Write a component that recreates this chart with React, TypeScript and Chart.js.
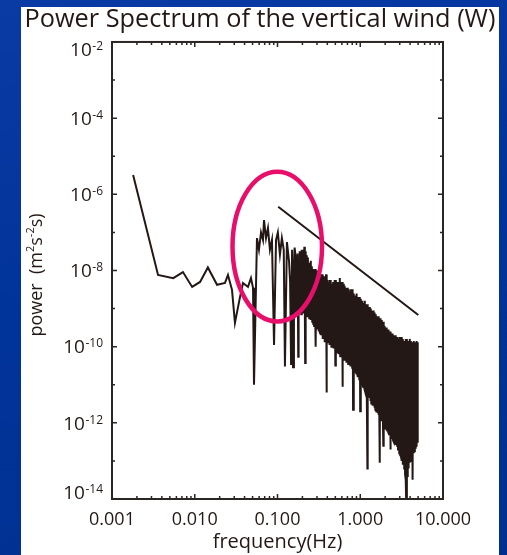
import React, { useEffect, useRef } from "react";
import { Chart, registerables } from "chart.js";

Chart.register(...registerables);

const TITLE = "Power Spectrum of the vertical wind (W)";
const X_TITLE = "frequency(Hz)";
const FONT = "'Open Sans', 'Noto Sans', sans-serif";
const INK = "#231815";
const AXIS_INK = "#2b2623";
const ELLIPSE_COLOR = "#e80f6b";

// low-frequency part of the spectrum (individually resolvable points)
const lowFreq = [
  0.0018, 0.0036, 0.0055, 0.0072, 0.0093, 0.0116, 0.0144, 0.0186, 0.0232, 0.0252,
  0.0282, 0.0306, 0.0352, 0.0383, 0.044, 0.0478, 0.0506, 0.052, 0.0565, 0.0597,
  0.0632, 0.0668, 0.0687, 0.0727, 0.0767, 0.081, 0.0857, 0.0908, 0.096, 0.101,
  0.107, 0.113, 0.119, 0.123, 0.13, 0.138, 0.142, 0.146, 0.15, 0.154,
  0.158, 0.161,
];
const lowPower = [
  3.2e-6, 7.6e-9, 6.3e-9, 9.1e-9, 3.7e-9, 5.0e-9, 1.2e-8, 4.2e-9, 4.7e-9, 7.6e-9,
  3.1e-9, 4.2e-10, 2.0e-9, 4.7e-9, 3.7e-9, 6.3e-9, 3.5e-9, 1.0e-11, 7.1e-8, 3.5e-8,
  1.0e-7, 6.3e-8, 2.1e-7, 7.1e-8, 1.3e-7, 3.5e-8, 6.3e-8, 1.1e-10, 6.3e-8, 1.0e-7,
  2.6e-8, 7.1e-8, 3.5e-8, 3.0e-11, 5.6e-8, 1.7e-8, 5e-9, 3.3e-11, 3.5e-8, 2.9e-11,
  1.2e-8, 4.0e-8,
];

// high-frequency dense part of the spectrum
const bandFreq = [
  0.165, 0.167, 0.169, 0.171, 0.173, 0.175, 0.178, 0.18, 0.182, 0.184,
  0.187, 0.189, 0.191, 0.194, 0.196, 0.199, 0.201, 0.204, 0.206, 0.209,
  0.211, 0.214, 0.216, 0.219, 0.222, 0.225, 0.227, 0.23, 0.233, 0.236,
  0.239, 0.242, 0.245, 0.248, 0.251, 0.254, 0.257, 0.26, 0.263, 0.267,
  0.27, 0.273, 0.277, 0.28, 0.284, 0.287, 0.291, 0.294, 0.298, 0.302,
  0.305, 0.309, 0.313, 0.317, 0.321, 0.325, 0.329, 0.333, 0.337, 0.341,
  0.345, 0.35, 0.354, 0.358, 0.363, 0.367, 0.372, 0.376, 0.381, 0.386,
  0.391, 0.395, 0.4, 0.405, 0.41, 0.416, 0.421, 0.426, 0.431, 0.437,
  0.442, 0.448, 0.453, 0.459, 0.464, 0.47, 0.476, 0.482, 0.488, 0.494,
  0.5, 0.507, 0.513, 0.519, 0.525, 0.532, 0.539, 0.545, 0.552, 0.559,
  0.566, 0.573, 0.58, 0.587, 0.594, 0.602, 0.609, 0.617, 0.624, 0.632,
  0.64, 0.648, 0.656, 0.664, 0.672, 0.681, 0.689, 0.698, 0.706, 0.715,
  0.724, 0.733, 0.742, 0.751, 0.761, 0.77, 0.78, 0.789, 0.799, 0.809,
  0.819, 0.83, 0.84, 0.85, 0.861, 0.872, 0.882, 0.893, 0.904, 0.916,
  0.927, 0.939, 0.95, 0.962, 0.974, 0.986, 0.998, 1.01, 1.02, 1.04,
  1.05, 1.06, 1.08, 1.09, 1.1, 1.12, 1.13, 1.14, 1.16, 1.17,
  1.19, 1.2, 1.22, 1.23, 1.25, 1.26, 1.28, 1.3, 1.31, 1.33,
  1.34, 1.36, 1.38, 1.4, 1.41, 1.43, 1.45, 1.47, 1.48, 1.5,
  1.52, 1.54, 1.56, 1.58, 1.6, 1.62, 1.64, 1.66, 1.68, 1.7,
  1.72, 1.74, 1.76, 1.79, 1.81, 1.83, 1.85, 1.88, 1.9, 1.92,
  1.95, 1.97, 2.0, 2.02, 2.05, 2.07, 2.1, 2.12, 2.15, 2.18,
  2.2, 2.23, 2.26, 2.29, 2.31, 2.34, 2.37, 2.4, 2.43, 2.46,
  2.49, 2.52, 2.55, 2.59, 2.62, 2.65, 2.68, 2.72, 2.75, 2.79,
  2.82, 2.86, 2.89, 2.93, 2.96, 3.0, 3.04, 3.07, 3.11, 3.15,
  3.19, 3.23, 3.27, 3.31, 3.35, 3.4, 3.44, 3.48, 3.52, 3.57,
  3.61, 3.66, 3.7, 3.75, 3.79, 3.84, 3.89, 3.94, 3.99, 4.04,
  4.09, 4.14, 4.19, 4.24, 4.29, 4.35, 4.4, 4.46, 4.51, 4.57,
  4.62, 4.68, 4.74, 4.8, 4.86, 4.92, 4.98,
];
const bandPower = [
  2.5e-8, 7.9e-10, 2.0e-8, 4.0e-9, 1.0e-9, 2.8e-8, 5.4e-11, 2.2e-8, 8.9e-10, 3.2e-8,
  8.9e-10, 3.2e-8, 2.5e-9, 7.1e-10, 3.5e-8, 1.0e-9, 2.8e-8, 7.9e-10, 3.5e-8, 5.0e-9,
  4.2e-8, 8.9e-10, 3.7e-11, 3.2e-8, 7.9e-10, 2.5e-8, 3.2e-9, 6.3e-10, 2.2e-8, 7.1e-10,
  1.6e-8, 5.6e-10, 1.4e-8, 2.0e-9, 5.0e-10, 1.8e-8, 6.3e-10, 1.3e-8, 4.5e-10, 1.1e-8,
  4.0e-10, 1.1e-8, 3.5e-10, 1.0e-8, 1.6e-9, 1.1e-8, 1.0e-10, 8.9e-9, 3.5e-10, 1.0e-8,
  2.8e-10, 7.9e-9, 2.5e-10, 7.1e-9, 1.3e-9, 2.2e-10, 6.3e-9, 2.0e-10, 7.9e-9, 2.5e-10,
  7.9e-9, 1.6e-10, 6.3e-9, 1.0e-9, 1.6e-10, 7.1e-9, 1.3e-10, 6.3e-9, 1.6e-10, 7.9e-9,
  6.3e-12, 6.3e-9, 1.3e-10, 5.6e-9, 7.9e-10, 1.3e-10, 5.0e-9, 1.1e-10, 5.6e-9, 1.3e-10,
  5.0e-9, 1.0e-10, 4.5e-9, 6.3e-10, 1.0e-10, 5.0e-9, 8.9e-11, 4.0e-9, 1.0e-10, 5.6e-9,
  3.2e-11, 5.6e-9, 7.1e-11, 5.0e-9, 5.0e-10, 7.1e-11, 4.0e-9, 6.3e-11, 5.0e-9, 7.1e-11,
  6.3e-9, 5.6e-11, 5.0e-9, 4.0e-10, 5.6e-11, 5.0e-9, 8.9e-12, 4.0e-9, 5.0e-11, 4.5e-9,
  4.5e-11, 4.0e-9, 4.5e-11, 3.5e-9, 3.2e-10, 4.0e-11, 3.2e-9, 4.0e-11, 3.5e-9, 3.5e-11,
  3.2e-9, 3.5e-11, 2.8e-9, 2.5e-10, 3.2e-11, 3.2e-9, 3.2e-11, 2.5e-9, 2.8e-11, 3.2e-9,
  2.2e-12, 2.5e-9, 2.5e-11, 2.2e-9, 2.0e-10, 2.2e-11, 2.2e-9, 2.0e-11, 2.5e-9, 2.0e-11,
  2.0e-9, 1.6e-11, 1.8e-9, 1.3e-10, 1.4e-11, 2.0e-9, 2.0e-12, 1.8e-9, 1.3e-11, 1.6e-9,
  1.0e-11, 1.6e-9, 8.9e-12, 1.4e-9, 1.0e-10, 7.9e-12, 1.6e-9, 7.1e-12, 1.3e-9, 7.1e-12,
  1.3e-9, 5.6e-12, 6.3e-14, 1.3e-9, 5.0e-12, 1.1e-9, 7.1e-11, 4.5e-12, 1.1e-9, 4.0e-12,
  1.0e-9, 3.2e-12, 8.9e-10, 5.0e-11, 2.8e-12, 8.9e-10, 2.8e-12, 7.9e-10, 2.5e-12, 7.9e-10,
  2.2e-12, 7.1e-10, 2.0e-12, 6.3e-10, 3.5e-11, 1.8e-12, 6.3e-10, 1.6e-12, 5.6e-10, 1.6e-12,
  8.9e-14, 5.6e-10, 1.3e-12, 5.0e-10, 2.5e-11, 1.1e-12, 4.5e-10, 1.0e-12, 2.5e-13, 4.5e-10,
  7.9e-13, 3.5e-10, 7.1e-13, 3.2e-10, 1.6e-11, 6.3e-13, 3.2e-10, 6.3e-13, 2.8e-10, 5.6e-13,
  2.8e-10, 5.0e-13, 2.5e-10, 1.0e-11, 2.0e-13, 2.5e-10, 4.5e-13, 2.2e-10, 4.0e-13, 2.2e-10,
  3.5e-13, 2.0e-10, 3.2e-13, 1.8e-10, 7.9e-12, 2.8e-13, 2.0e-10, 2.8e-13, 1.8e-10, 2.5e-13,
  1.8e-10, 2.0e-13, 1.6e-10, 5.6e-12, 1.6e-13, 1.8e-10, 1.4e-13, 1.6e-10, 1.3e-13, 1.8e-10,
  1.0e-13, 1.6e-10, 7.9e-14, 1.4e-10, 3.2e-12, 6.3e-14, 1.4e-10, 4.5e-14, 1.6e-10, 3.2e-14,
  5e-15, 1.6e-10, 4.0e-14, 1.4e-10, 3.2e-12, 6.3e-14, 1.4e-10, 8.9e-14, 1.6e-10, 1.0e-13,
  1.4e-10, 1.3e-13, 1.3e-10, 2.5e-12, 3.2e-14, 1.3e-10, 1.6e-13, 1.4e-10, 1.8e-13, 1.3e-10,
  2.2e-13, 1.3e-10, 2.5e-13, 1.4e-10, 3.2e-13, 3.2e-12, 1.3e-10,
];

// reference -5/3 slope line
const slopeFreq = [0.102, 5.03];
const slopePower = [4.7e-7, 6.8e-10];

// highlighted region (ellipse bounding box, data units)
const ellipseFreq = [0.0286, 0.345];
const ellipsePower = [3.9e-6, 4.6e-10];

// axes
const xTickValues = [0.001, 0.01, 0.1, 1, 10];
const xTickLabels = ["0.001", "0.010", "0.100", "1.000", "10.000"];
const xMinorMultipliers = [2, 3, 4, 5, 6, 7, 8, 9];
const yTickExponents = [-14, -13, -12, -11, -10, -9, -8, -7, -6, -5, -4, -3, -2];
const yLabelExponents = [-2, -4, -6, -8, -10, -12, -14];

const decorPlugin = {
  id: "spectrumDecor",
  afterDatasetsDraw(chart: any) {
    const { ctx, scales } = chart;
    const x = scales.x;
    const y = scales.y;
    const l = x.getPixelForValue(ellipseFreq[0]);
    const r = x.getPixelForValue(ellipseFreq[1]);
    const t = y.getPixelForValue(ellipsePower[0]);
    const b = y.getPixelForValue(ellipsePower[1]);
    ctx.save();
    ctx.strokeStyle = ELLIPSE_COLOR;
    ctx.lineWidth = 4.5;
    ctx.beginPath();
    ctx.ellipse((l + r) / 2, (t + b) / 2, (r - l) / 2, (b - t) / 2, 0, 0, Math.PI * 2);
    ctx.stroke();
    ctx.restore();
  },
  afterDraw(chart: any) {
    const { ctx, chartArea: a, scales } = chart;
    const x = scales.x;
    const y = scales.y;
    ctx.save();
    // frame
    ctx.strokeStyle = AXIS_INK;
    ctx.lineWidth = 2;
    ctx.strokeRect(a.left, a.top, a.right - a.left, a.bottom - a.top);
    // x ticks (inward, bottom and top)
    ctx.lineWidth = 1.5;
    ctx.beginPath();
    xTickValues.forEach((v, i) => {
      const px = x.getPixelForValue(v);
      ctx.moveTo(px, a.bottom);
      ctx.lineTo(px, a.bottom - 5);
      ctx.moveTo(px, a.top);
      ctx.lineTo(px, a.top + 5);
      if (i < xTickValues.length - 1) {
        xMinorMultipliers.forEach((m) => {
          const mx = x.getPixelForValue(v * m);
          ctx.moveTo(mx, a.bottom);
          ctx.lineTo(mx, a.bottom - 3);
          ctx.moveTo(mx, a.top);
          ctx.lineTo(mx, a.top + 3);
        });
      }
    });
    // y ticks (inward, left and right)
    yTickExponents.forEach((e) => {
      const py = y.getPixelForValue(Math.pow(10, e));
      const len = e % 2 === 0 ? 5 : 3;
      ctx.moveTo(a.left, py);
      ctx.lineTo(a.left + len, py);
      ctx.moveTo(a.right, py);
      ctx.lineTo(a.right - len, py);
    });
    ctx.stroke();

    // y tick labels 10^n
    ctx.fillStyle = INK;
    ctx.textBaseline = "alphabetic";
    const base = 19;
    const sup = 12;
    const dh = base * 0.714;
    const R = a.left - 9;
    yLabelExponents.forEach((e) => {
      const py = y.getPixelForValue(Math.pow(10, e));
      let top = py - dh / 2;
      top = Math.max(a.top, Math.min(a.bottom - dh, top));
      const expText = "-" + Math.abs(e);
      ctx.font = `${sup}px ${FONT}`;
      const we = ctx.measureText(expText).width;
      ctx.textAlign = "left";
      ctx.fillText(expText, R - we, top - 1 + sup * 0.714);
      ctx.font = `${base}px ${FONT}`;
      ctx.textAlign = "right";
      ctx.fillText("10", R - we - 0.5, top + dh);
    });

    // y axis title with superscripts
    const parts = [
      { t: "power  (m", s: 18, up: 0 },
      { t: "2", s: 11, up: 8 },
      { t: "s", s: 18, up: 0 },
      { t: "-2", s: 11, up: 8 },
      { t: "s)", s: 18, up: 0 },
    ];
    let total = 0;
    parts.forEach((p) => {
      ctx.font = `${p.s}px ${FONT}`;
      total += ctx.measureText(p.t).width;
    });
    ctx.save();
    ctx.translate(42, 275);
    ctx.rotate(-Math.PI / 2);
    ctx.textAlign = "left";
    let u = -total / 2;
    parts.forEach((p) => {
      ctx.font = `${p.s}px ${FONT}`;
      ctx.fillText(p.t, u, -p.up);
      u += ctx.measureText(p.t).width;
    });
    ctx.restore();
    ctx.restore();
  },
};

export default function App() {
  const canvasRef = useRef<HTMLCanvasElement | null>(null);

  useEffect(() => {
    const canvas = canvasRef.current;
    if (!canvas) return;
    const spectrum = [
      ...lowFreq.map((f, i) => ({ x: f, y: lowPower[i] })),
      ...bandFreq.map((f, i) => ({ x: f, y: bandPower[i] })),
    ];
    const slope = slopeFreq.map((f, i) => ({ x: f, y: slopePower[i] }));
    const tickFont = { family: FONT, size: 18, weight: "normal" as const };
    const axisTitleFont = { family: FONT, size: 20, weight: "normal" as const };

    const chart = new Chart(canvas, {
      type: "line",
      data: {
        datasets: [
          {
            label: "W spectrum",
            data: spectrum,
            borderColor: INK,
            borderWidth: 2,
            pointRadius: 0,
            tension: 0,
            fill: false,
            xAxisID: "x",
            yAxisID: "y",
          },
          {
            label: "-5/3 slope",
            data: slope,
            borderColor: INK,
            borderWidth: 2,
            pointRadius: 0,
            tension: 0,
            fill: false,
            xAxisID: "x",
            yAxisID: "y",
          },
        ],
      },
      options: {
        animation: false,
        responsive: false,
        devicePixelRatio: 1,
        layout: { padding: { left: 13, right: 0, top: 0, bottom: 0 } },
        plugins: {
          legend: { display: false },
          tooltip: { enabled: false },
          title: {
            display: true,
            text: TITLE,
            color: INK,
            font: { family: FONT, size: 25.3, weight: "normal" },
            padding: { top: 5, bottom: 6.6 },
          },
        },
        scales: {
          x: {
            type: "logarithmic",
            position: "bottom",
            min: 0.001,
            max: 10,
            afterBuildTicks: (s: any) => {
              s.ticks = xTickValues.map((v) => ({ value: v }));
            },
            afterFit: (s: any) => {
              s.height = 56;
            },
            grid: { display: false, drawTicks: false },
            border: { display: false },
            ticks: {
              autoSkip: false,
              maxRotation: 0,
              padding: 10,
              color: INK,
              font: tickFont,
              callback: (_v: any, i: number) => xTickLabels[i],
            },
            title: {
              display: true,
              text: X_TITLE,
              color: INK,
              font: axisTitleFont,
              padding: { top: 0, bottom: 1 },
            },
          },
          y: {
            type: "logarithmic",
            position: "left",
            min: 1e-14,
            max: 1e-2,
            afterBuildTicks: (s: any) => {
              s.ticks = yTickExponents.map((e) => ({ value: Math.pow(10, e) }));
            },
            afterFit: (s: any) => {
              s.width = 99;
            },
            grid: { display: false, drawTicks: false },
            border: { display: false },
            ticks: { display: false },
          },
          yRight: {
            type: "linear",
            position: "right",
            afterFit: (s: any) => {
              s.width = 64;
            },
            grid: { display: false, drawTicks: false },
            border: { display: false },
            ticks: { display: false },
          },
        },
      } as any,
      plugins: [decorPlugin],
    });
    return () => chart.destroy();
  }, []);

  return (
    <div
      style={{
        position: "fixed",
        left: 0,
        top: 0,
        width: 507,
        height: 555,
        overflow: "hidden",
        background: "linear-gradient(165deg, #0a3aa4 0%, #01349b 45%, #00308f 100%)",
      }}
    >
      <div
        style={{ position: "absolute", left: 21, top: 7, width: 478, height: 548, background: "#ffffff" }}
      />
      <canvas
        ref={canvasRef}
        width={507}
        height={555}
        style={{ position: "absolute", left: 0, top: 0, width: 507, height: 555 }}
      />
    </div>
  );
}
